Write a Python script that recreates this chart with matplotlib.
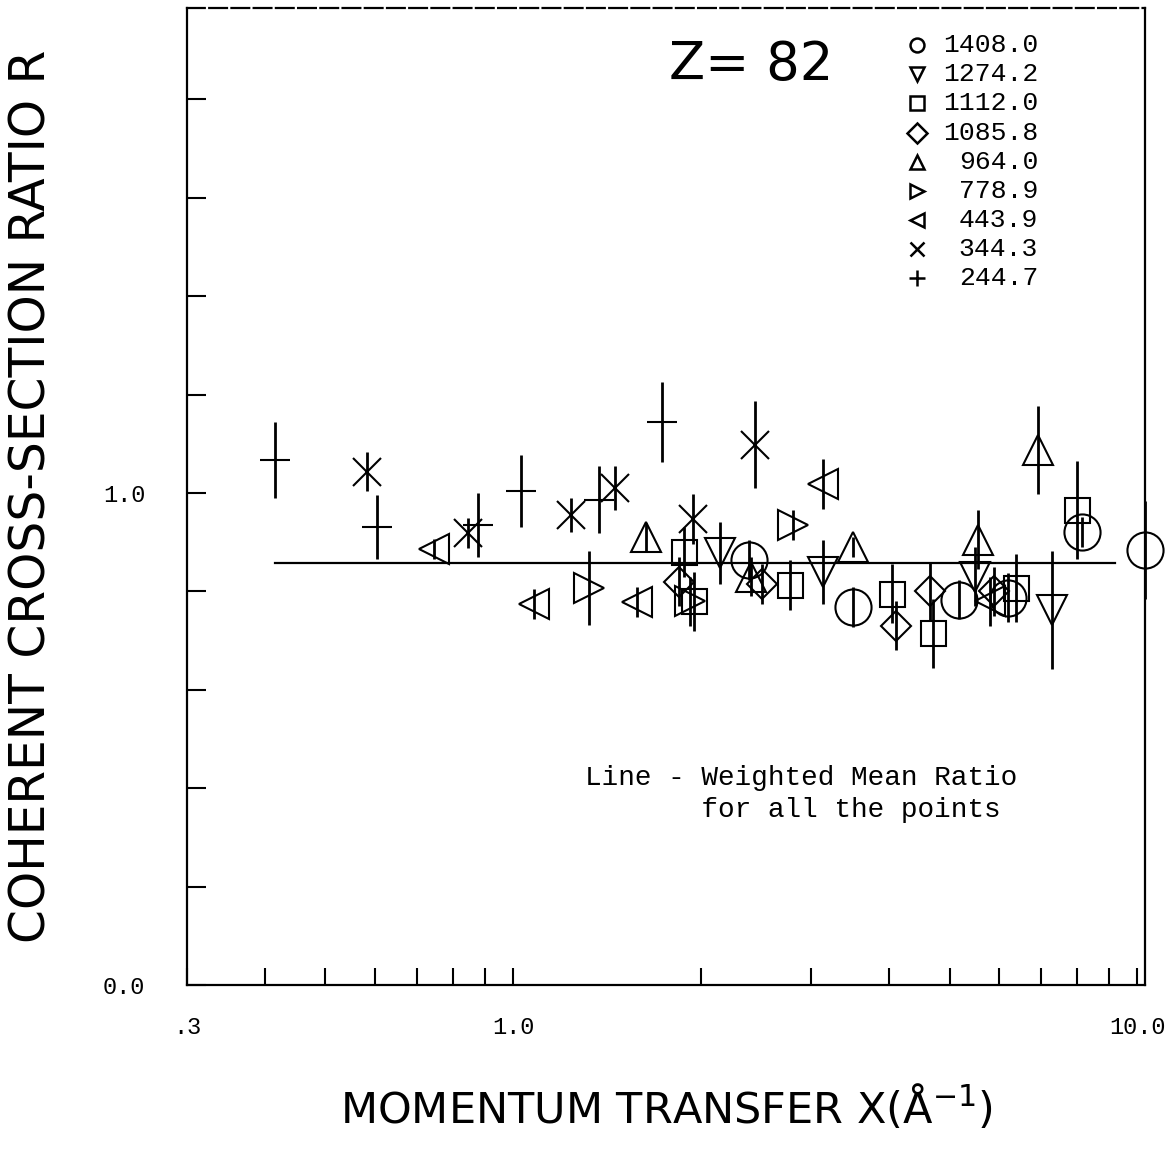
import numpy as np
import matplotlib
matplotlib.use("Agg")
from matplotlib import pyplot as plt
from matplotlib.ticker import FixedLocator, NullFormatter

# series: energy label -> x (momentum transfer), R, error
plus_x = [0.415, 0.605, 0.878, 1.03, 1.37, 1.73]
plus_y = [1.067, 0.931, 0.935, 1.004, 0.986, 1.144]
plus_e = [0.077, 0.065, 0.065, 0.074, 0.068, 0.082]

cross_x = [0.583, 0.846, 1.236, 1.455, 1.94, 2.44]
cross_y = [1.043, 0.919, 0.955, 1.01, 0.947, 1.098]
cross_e = [0.04, 0.03, 0.035, 0.045, 0.05, 0.088]

ltri_x = [0.745, 1.08, 1.58, 3.14, 5.8]
ltri_y = [0.886, 0.774, 0.778, 1.018, 0.78]
ltri_e = [0.02, 0.03, 0.03, 0.05, 0.05]

rtri_x = [1.32, 1.92, 2.81]
rtri_y = [0.807, 0.78, 0.935]
rtri_e = [0.075, 0.05, 0.03]

utri_x = [1.63, 2.4, 3.5, 5.55, 6.92]
utri_y = [0.91, 0.83, 0.89, 0.905, 1.087]
utri_e = [0.03, 0.04, 0.02, 0.06, 0.09]

dtri_x = [2.14, 3.14, 5.5, 7.3]
dtri_y = [0.878, 0.84, 0.83, 0.762]
dtri_e = [0.063, 0.065, 0.06, 0.12]

circ_x = [2.39, 3.5, 5.17, 6.2, 8.16, 10.3]
circ_y = [0.864, 0.768, 0.783, 0.787, 0.921, 0.884]
circ_e = [0.04, 0.04, 0.04, 0.05, 0.03, 0.1]

sq_x = [1.88, 1.95, 2.78, 4.05, 4.7, 6.4, 8.0]
sq_y = [0.88, 0.78, 0.813, 0.795, 0.715, 0.807, 0.965]
sq_e = [0.05, 0.06, 0.05, 0.06, 0.07, 0.07, 0.1]

dia_x = [1.84, 2.5, 4.1, 4.65, 5.9]
dia_y = [0.82, 0.815, 0.73, 0.80, 0.80]
dia_e = [0.05, 0.04, 0.05, 0.06, 0.05]

mean_ratio = 0.858
mean_x = [0.415, 9.2]

legend_labels = ["1408.0", "1274.2", "1112.0", "1085.8", "964.0",
                 "778.9", "443.9", "344.3", "244.7"]
legend_markers = ["o", "v", "s", "D", "^", ">", "<", "x", "+"]

mono = ["Liberation Mono", "DejaVu Sans Mono"]
sans = ["DejaVu Sans"]

fig = plt.figure(figsize=(11.76, 11.51), dpi=100)
ax = fig.add_axes([0.159, 0.144, 0.815, 0.849])
ax.set_xscale("log")
ax.set_xlim(0.3, 10.3)
ax.set_ylim(0.0, 1.985)

ax.plot(mean_x, [mean_ratio, mean_ratio], color="black", lw=1.6)

series = [
    (circ_x, circ_y, circ_e, "o", 26),
    (dtri_x, dtri_y, dtri_e, "v", 22),
    (sq_x, sq_y, sq_e, "s", 18),
    (dia_x, dia_y, dia_e, "D", 15),
    (utri_x, utri_y, utri_e, "^", 22),
    (rtri_x, rtri_y, rtri_e, ">", 22),
    (ltri_x, ltri_y, ltri_e, "<", 22),
    (cross_x, cross_y, cross_e, "x", 20),
    (plus_x, plus_y, plus_e, "_", 22),
]
for xs, ys, es, m, ms in series:
    ax.errorbar(xs, ys, yerr=es, fmt=m, ms=ms, mfc="none", mec="black",
                mew=1.5, ecolor="black", elinewidth=2.0, capsize=0,
                clip_on=False, zorder=3)

# ticks
yt = np.arange(0, 2.01, 0.2)
ax.yaxis.set_major_locator(FixedLocator(yt))
ax.set_yticklabels(["0.0" if abs(v) < 1e-9 else ("1.0" if abs(v - 1) < 1e-9 else "")
                    for v in yt])
ax.xaxis.set_major_locator(FixedLocator([0.3, 1.0, 10.0]))
ax.set_xticklabels([".3", "1.0", "10.0"])
ax.xaxis.set_minor_locator(FixedLocator([0.4, 0.5, 0.6, 0.7, 0.8, 0.9,
                                         2, 3, 4, 5, 6, 7, 8, 9]))
ax.xaxis.set_minor_formatter(NullFormatter())
ax.tick_params(axis="y", direction="in", length=14, width=1.5, pad=30,
               labelsize=17, left=True, right=False)
ax.tick_params(axis="x", which="both", direction="in", length=12, width=1.5,
               pad=22, labelsize=17, top=False)
for lab in ax.get_xticklabels() + ax.get_yticklabels():
    lab.set_family(mono)

for sp in ax.spines.values():
    sp.set_linewidth(1.6)
ax.spines["top"].set_linestyle((0, (8, 2)))

ax.set_ylabel("COHERENT CROSS-SECTION RATIO R", family=sans, fontsize=35,
              labelpad=34)
ax.set_xlabel("MOMENTUM TRANSFER X(\u00c5$^{-1}$)", family=sans, fontsize=31,
              labelpad=32)

ax.text(0.503, 0.9417, "Z= 82", transform=ax.transAxes, family=sans,
        fontsize=38, va="center", ha="left")

# legend column
for i, (lab, m) in enumerate(zip(legend_labels, legend_markers)):
    yy = 0.962 - i * 0.0298
    ax.plot([0.762], [yy], marker=m, ms=10 if m != "+" else 12, mfc="none",
            mec="black", mew=1.8, transform=ax.transAxes, clip_on=False)
    ax.text(0.888, yy, lab, transform=ax.transAxes, family=mono, fontsize=19,
            ha="right", va="center")

ax.text(0.415, 0.196, "Line - Weighted Mean Ratio\n       for all the points",
        transform=ax.transAxes, family=mono, fontsize=20, ha="left",
        va="center", linespacing=1.3)

fig.savefig("out.png", dpi=100)
